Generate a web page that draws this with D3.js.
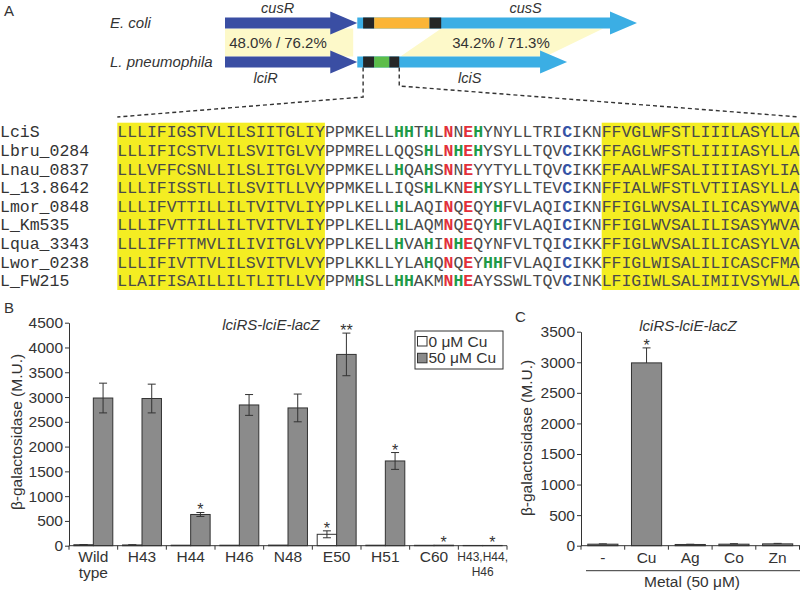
<!DOCTYPE html>
<html>
<head>
<meta charset="utf-8">
<script src="https://cdn.jsdelivr.net/npm/d3@7"></script>
<style>
body{margin:0;background:#fff}
svg{display:block}
</style>
</head>
<body>
<svg id="fig" width="800" height="591"></svg>
<script>
// ---------- data ----------
// panel A: operon schematic (lengths in amino acids, rough)
const orgNames = ["E. coli", "L. pneumophila"];
const regGenes = ["cusR", "lciR"];
const sensGenes = ["cusS", "lciS"];
const regLen = [227, 227];
const sensLen = [480, 360];
const tm1 = [[10, 29], [10, 29]];
const peri = [[29, 124], [29, 55]];
const tm2 = [[124, 144], [55, 72]];
const identity = ["48.0% / 76.2%", "34.2% / 71.3%"];
const sensHomology = [[144, 422], [74, 323]]; // top row span, bottom row span

// alignment
const seqNames = ["LciS", "Lbru_0284", "Lnau_0837", "L_13.8642", "Lmor_0848",
  "L_Km535", "Lqua_3343", "Lwor_0238", "L_FW215"];
const seqTM1 = ["LLLIFIGSTVLILSIITGLIY", "LLLIFICSTVLILSVITGLVY", "LLLVFFCSNLLILSLITGLVY",
  "LLLIFISSTLLILSVITLLVY", "LLLIFVTTILLILTVITVLIY", "LLLIFVTTILLILTVITVLIY",
  "LLLIFFTTMVLILIVITGLVY", "LLLIFIVTTVLILSVITVLVY", "LLAIFISAILLILTLITLLVY"];
const seqMid = ["PPMKELLHHTHLNNEHYNYLLTRICIKN", "PPMRELLQQSHLNHEHYSYLLTQVCIKK",
  "PPMKELLHQAHSNNEYYTYLLTQVCIKK", "PPMKELLIQSHLKNEHYSYLLTEVCIKN",
  "PPLKELLHLAQINQEQYHFVLAQICIKN", "PPLKELLHLAQMNQEQYHFVLAQICIKN",
  "PPLKELLHVAHINHEQYNFVLTQICIKK", "PPLKKLLYLAHQNQEYHHFVLAQICIKK",
  "PPMHSLLHHAKMNHEAYSSWLTQVCINK"];
const seqTM2 = ["FFVGLWFSTLIIILASYLLA", "FFAGLWFSTLIIIIASYLLA", "FFAALWFSALIIIIASYLIA",
  "FFIALWFSTLVTIIASYLLA", "FFIGLWVSALILICASYWVA", "FFIGLWVSALILISASYWVA",
  "FFIGLWVSALILICASYLVA", "FFIGLWISALILICASCFMA", "LFIGIWLSALIMIIVSYWLA"];
const redCols = [12, 14]; // N and E columns of the middle block

// panel B
const mutants = ["Wild type", "H43", "H44", "H46", "N48", "E50", "H51", "C60", "H43,H44,H46"];
const mutantLines = [["Wild", "type"], ["H43"], ["H44"], ["H46"], ["N48"], ["E50"], ["H51"], ["C60"], ["H43,H44,", "H46"]];
const cu0 = [20, 15, 10, 10, 12, 230, 10, 8, 5];
const cu0Err = [4, 3, 2, 2, 2, 70, 2, 2, 1];
const cu50 = [2980, 2970, 630, 2840, 2780, 3860, 1710, 10, 5];
const cu50Err = [300, 290, 40, 210, 280, 430, 170, 2, 1];
const sig0 = ["", "", "", "", "", "*", "", "", ""];
const sig50 = ["", "", "*", "", "", "**", "*", "*", "*"];
const ticksB = [0, 500, 1000, 1500, 2000, 2500, 3000, 3500, 4000, 4500];
const legendB = ["0 \u03bcM Cu", "50 \u03bcM Cu"];

// panel C
const metals = ["-", "Cu", "Ag", "Co", "Zn"];
const metalVal = [25, 2990, 20, 25, 30];
const metalErr = [5, 245, 4, 8, 8];
const metalSig = ["", "*", "", "", ""];
const ticksC = [0, 500, 1000, 1500, 2000, 2500, 3000, 3500];

// ---------- drawing ----------
const svg = d3.select("#fig");
const sans = "'Liberation Sans', Arial, Helvetica, sans-serif";
const mono = "'Courier New', 'Liberation Mono', monospace";
const ink = "#333";

const darkBlue = "#3a4ea3", lightBlue = "#3baee4", tmCol = "#262626";
const periCol = ["#fbb536", "#5cbd4a"];
const paleYellow = "#fdf9c9", seqYellow = "#f4ed22";

// ---- panel A schematic ----
const gx = d3.scaleLinear().domain([-227, 480]).range([225, 637]);
const rowY = [23, 62];
const bodyH = 5.5, headH = 11.5, headL = 27;

function arrowPath(x0, x1, cy) {
  const xh = x1 - headL;
  return `M${x0},${cy - bodyH}H${xh}V${cy - headH}L${x1},${cy}L${xh},${cy + headH}V${cy + bodyH}H${x0}Z`;
}

const gA = svg.append("g");
// homology shading
gA.append("rect")
  .attr("x", gx(-regLen[0])).attr("width", gx(-7) - gx(-regLen[0]))
  .attr("y", rowY[0] + bodyH).attr("height", rowY[1] - rowY[0] - 2 * bodyH)
  .attr("fill", paleYellow);
gA.append("path")
  .attr("d", `M${gx(sensHomology[0][0])},${rowY[0] + bodyH}L${gx(sensHomology[0][1])},${rowY[0] + bodyH}` +
    `L${gx(sensHomology[1][1])},${rowY[1] - bodyH}L${gx(sensHomology[1][0])},${rowY[1] - bodyH}Z`)
  .attr("fill", paleYellow);

orgNames.forEach((org, i) => {
  const cy = rowY[i];
  gA.append("path").attr("d", arrowPath(gx(-regLen[i]), gx(0), cy)).attr("fill", darkBlue);
  gA.append("path").attr("d", arrowPath(gx(0), gx(sensLen[i]), cy)).attr("fill", lightBlue);
  [[tm1[i], tmCol], [peri[i], periCol[i]], [tm2[i], tmCol]].forEach(([r, c]) => {
    gA.append("rect").attr("x", gx(r[0])).attr("width", gx(r[1]) - gx(r[0]))
      .attr("y", cy - bodyH).attr("height", 2 * bodyH).attr("fill", c);
  });
  gA.append("text").text(org).attr("x", 110).attr("y", i === 0 ? 28 : 67)
    .attr("font-family", sans).attr("font-size", 15).attr("font-style", "italic").attr("fill", ink);
  const ly = i === 0 ? 13 : 83;
  gA.append("text").text(regGenes[i]).attr("x", (gx(-regLen[i]) + gx(0) - headL) / 2 - (i ? 12 : 0)).attr("y", ly)
    .attr("text-anchor", "middle").attr("font-family", sans).attr("font-size", 14.5)
    .attr("font-style", "italic").attr("fill", ink);
  gA.append("text").text(sensGenes[i]).attr("x", (gx(tm2[i][1]) + gx(sensLen[i]) - headL) / 2).attr("y", ly)
    .attr("text-anchor", "middle").attr("font-family", sans).attr("font-size", 14.5)
    .attr("font-style", "italic").attr("fill", ink);
});
gA.append("text").text(identity[0]).attr("x", 278).attr("y", 48).attr("text-anchor", "middle")
  .attr("font-family", sans).attr("font-size", 15).attr("fill", ink);
gA.append("text").text(identity[1]).attr("x", 501).attr("y", 48).attr("text-anchor", "middle")
  .attr("font-family", sans).attr("font-size", 15).attr("fill", ink);

// ---- alignment ----
const ax0 = 117.3, cw = 9.886;
const ay = d3.scaleLinear().domain([0, seqNames.length - 1]).range([131.7, 280.7]);
const nTM1 = seqTM1[0].length, nMid = seqMid[0].length, nTM2 = seqTM2[0].length;

// dashed zoom lines
const dash = svg.append("g").attr("fill", "none").attr("stroke", ink)
  .attr("stroke-width", 1.4).attr("stroke-dasharray", "4,3");
dash.append("path").attr("d", `M${gx(tm1[1][0])},${rowY[1] + bodyH}V97L${ax0},117`);
dash.append("path").attr("d", `M${gx(tm2[1][1])},${rowY[1] + bodyH}V86L${ax0 + cw * (nTM1 + nMid + nTM2)},117`);

const gS = svg.append("g");
[[0, nTM1], [nTM1 + nMid, nTM2]].forEach(([s, n]) => {
  gS.append("rect").attr("x", ax0 + s * cw).attr("width", n * cw)
    .attr("y", ay(0) - 9).attr("height", ay(seqNames.length - 1) - ay(0) + 18.3)
    .attr("fill", seqYellow);
});

seqNames.forEach((name, r) => {
  const y = ay(r) + 5.6;
  gS.append("text").text(name).attr("x", 0).attr("y", y)
    .attr("font-family", mono).attr("font-size", 16.5).attr("fill", ink);
  const chars = [];
  (seqTM1[r] + seqMid[r] + seqTM2[r]).split("").forEach((ch, k) => {
    const m = k - nTM1;
    let col = "#4a4a4a", bold = false;
    if (m >= 0 && m < nMid) {
      if (ch === "H") { col = "#1f9a48"; bold = true; }
      else if (ch === "C") { col = "#3553a6"; bold = true; }
      else if (redCols.includes(m) && (ch === "N" || ch === "E")) { col = "#e2303b"; bold = true; }
    }
    chars.push({ ch, k, col, bold });
  });
  gS.selectAll(null).data(chars).join("text")
    .attr("x", d => ax0 + d.k * cw + cw / 2).attr("y", y)
    .attr("text-anchor", "middle")
    .attr("font-family", mono).attr("font-size", 16.5)
    .attr("font-weight", d => d.bold ? "bold" : "normal")
    .attr("fill", d => d.col).text(d => d.ch);
});

// ---- common helpers ----
function label(g, t, x, y, size, opts = {}) {
  return g.append("text").text(t).attr("x", x).attr("y", y)
    .attr("font-family", sans).attr("font-size", size).attr("fill", ink)
    .attr("text-anchor", opts.anchor || "start")
    .attr("font-style", opts.italic ? "italic" : "normal");
}
function errBar(g, x, y0, y1) {
  g.append("line").attr("x1", x).attr("x2", x).attr("y1", y0).attr("y2", y1);
  g.append("line").attr("x1", x - 4).attr("x2", x + 4).attr("y1", y0).attr("y2", y0);
  g.append("line").attr("x1", x - 4).attr("x2", x + 4).attr("y1", y1).attr("y2", y1);
}
function yAxis(g, scale, ticks, x) {
  const a = g.append("g").attr("transform", `translate(${x},0)`)
    .call(d3.axisLeft(scale).tickValues(ticks).tickFormat(d3.format("d"))
      .tickSize(4).tickSizeOuter(0).tickPadding(2));
  a.selectAll("path,line").attr("stroke", ink);
  a.selectAll("text").attr("font-family", sans).attr("font-size", 15.5).attr("fill", ink);
  return a;
}

const barFill = "#8b8b8b";

// ---- panel B ----
const gB = svg.append("g");
label(gB, "A", 4, 16, 15);
label(gB, "B", 4, 313, 15);
const yB = d3.scaleLinear().domain([0, 4500]).range([545.7, 322.7]);
const xB = d3.scaleBand().domain(mutants).range([69, 507]).paddingInner(0.2).paddingOuter(0.1);
const xSub = d3.scaleBand().domain(["0", "50"]).range([0, xB.bandwidth()]);
yAxis(gB, yB, ticksB, 69);
gB.append("text").text("\u03b2-galactosidase (M.U.)")
  .attr("transform", `translate(22,432) rotate(-90)`).attr("text-anchor", "middle")
  .attr("font-family", sans).attr("font-size", 15.5).attr("fill", ink);

const barsB = gB.append("g");
const errsB = gB.append("g").attr("stroke", ink).attr("stroke-width", 1);
mutants.forEach((m, i) => {
  [["0", cu0[i], cu0Err[i], "#fff", sig0[i]], ["50", cu50[i], cu50Err[i], barFill, sig50[i]]].forEach(([k, v, e, f, s]) => {
    const x = xB(m) + xSub(k);
    barsB.append("rect").attr("x", x).attr("width", xSub.bandwidth())
      .attr("y", yB(v)).attr("height", yB(0) - yB(v))
      .attr("fill", f).attr("stroke", ink).attr("stroke-width", 1);
    const cx = x + xSub.bandwidth() / 2;
    if (e > 2) errBar(errsB, cx, yB(v + e), yB(v - e));
    if (s) label(gB, s, cx, yB(v + e) + 3, 16, { anchor: "middle" });
  });
});
// x axis with ticks at group boundaries
const stepB = xB.step();
gB.append("line").attr("x1", 69).attr("x2", 507).attr("y1", yB(0)).attr("y2", yB(0)).attr("stroke", ink);
mutants.concat([null]).forEach((m, i) => {
  const bx = 69 + i * stepB;
  gB.append("line").attr("x1", bx).attr("x2", bx).attr("y1", yB(0)).attr("y2", yB(0) + 4).attr("stroke", ink);
});
mutants.forEach((m, i) => {
  const cx = xB(m) + xB.bandwidth() / 2;
  const lines = mutantLines[i];
  const small = lines[0].length > 5;
  lines.forEach((t, j) => label(gB, t, cx, (small ? 561 : 562) + j * (small ? 15 : 16), small ? 12 : 15.5, { anchor: "middle" }));
});
label(gB, "lciRS-lciE-lacZ", 271, 330, 15, { anchor: "middle", italic: true });
// legend
const lg = gB.append("g");
lg.append("rect").attr("x", 415).attr("y", 331).attr("width", 88).attr("height", 38)
  .attr("fill", "#fff").attr("stroke", ink);
legendB.forEach((t, i) => {
  lg.append("rect").attr("x", 417.5).attr("y", 336.5 + i * 16.8).attr("width", 9.5).attr("height", 9.5)
    .attr("fill", i ? barFill : "#fff").attr("stroke", ink);
  label(lg, t, 428.5, 346.5 + i * 16.8, 15.5);
});

// ---- panel C ----
const gC = svg.append("g");
label(gC, "C", 515, 322, 15);
const yC = d3.scaleLinear().domain([0, 3500]).range([545.7, 331.7]);
const xC = d3.scaleBand().domain(metals).range([581, 799.5]).paddingInner(0.31).paddingOuter(0.155);
yAxis(gC, yC, ticksC, 581);
gC.append("text").text("\u03b2-galactosidase (M.U.)")
  .attr("transform", `translate(532,438) rotate(-90)`).attr("text-anchor", "middle")
  .attr("font-family", sans).attr("font-size", 15.5).attr("fill", ink);
const errsC = gC.append("g").attr("stroke", ink).attr("stroke-width", 1);
metals.forEach((m, i) => {
  const v = metalVal[i], e = metalErr[i];
  gC.append("rect").attr("x", xC(m)).attr("width", xC.bandwidth())
    .attr("y", yC(v)).attr("height", yC(0) - yC(v))
    .attr("fill", barFill).attr("stroke", ink);
  const cx = xC(m) + xC.bandwidth() / 2;
  errBar(errsC, cx, yC(v + e), yC(v - e));
  if (metalSig[i]) label(gC, metalSig[i], cx, yC(v + e) + 3, 16, { anchor: "middle" });
  label(gC, m, cx, 563, 15.5, { anchor: "middle" });
});
gC.append("line").attr("x1", 581).attr("x2", 800).attr("y1", yC(0)).attr("y2", yC(0)).attr("stroke", ink);
metals.concat([null]).forEach((m, i) => {
  const bx = 581 + i * xC.step();
  gC.append("line").attr("x1", bx).attr("x2", bx).attr("y1", yC(0)).attr("y2", yC(0) + 4).attr("stroke", ink);
});
gC.append("line").attr("x1", 586).attr("x2", 800).attr("y1", 570.7).attr("y2", 570.7).attr("stroke", ink);
label(gC, "Metal (50 \u03bcM)", 692, 587, 15.5, { anchor: "middle" });
label(gC, "lciRS-lciE-lacZ", 688, 331, 15, { anchor: "middle", italic: true });
</script>
</body>
</html>
